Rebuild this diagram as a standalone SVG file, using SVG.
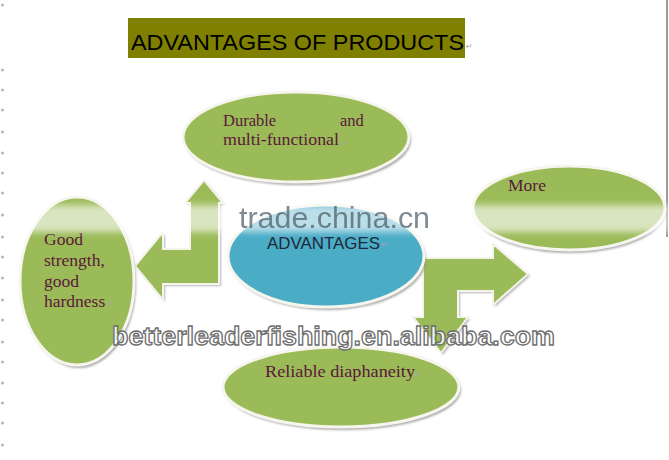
<svg xmlns="http://www.w3.org/2000/svg" width="669" height="460" viewBox="0 0 669 460">
<style>
.node{fill:#9bbb59;stroke:#f6f6ee;stroke-width:3}
.blue{fill:#4bacc6;stroke:#f6f6ee;stroke-width:3}
.shadow{fill:#8f8f8f;opacity:.75;filter:url(#blur)}
.arrow{fill:#9bbb59;stroke:#f4f4ec;stroke-width:2;stroke-linejoin:miter}
.ashadow{fill:#9a9a9a;opacity:.7;filter:url(#blur)}
.lbl{font-family:"Liberation Serif","Times New Roman",serif;font-size:17.5px;fill:#5a1838}
.pm{font-family:"DejaVu Sans",sans-serif;font-size:8px;fill:#a8a8a8}
.mark{fill:#b8b8b8}
</style>
<defs>
<filter id="blur" x="-10%" y="-10%" width="120%" height="130%"><feGaussianBlur stdDeviation="1.3"/></filter>
<filter id="bandblur" x="-5%" y="-50%" width="110%" height="200%"><feGaussianBlur stdDeviation="3"/></filter>
</defs>
<rect width="669" height="460" fill="#ffffff"/>

<g id="margin">
<line x1="667" y1="0" x2="667" y2="237" stroke="#5a5a5a" stroke-width="1.2"/>
<g class="mark">
<circle cx="2.5" cy="5" r="1.6"/>
<circle cx="2.5" cy="70" r="1.6"/><circle cx="2.5" cy="90" r="1.6"/><circle cx="2.5" cy="110" r="1.6"/>
<circle cx="2.5" cy="132" r="1.6"/><circle cx="2.5" cy="153" r="1.6"/><circle cx="2.5" cy="173" r="1.6"/>
<circle cx="2.5" cy="193" r="1.6"/><circle cx="2.5" cy="215" r="1.6"/><circle cx="2.5" cy="237" r="1.6"/>
<circle cx="2.5" cy="257" r="1.6"/><circle cx="2.5" cy="278" r="1.6"/><circle cx="2.5" cy="300" r="1.6"/>
<circle cx="2.5" cy="320" r="1.6"/><circle cx="2.5" cy="342" r="1.6"/><circle cx="2.5" cy="362" r="1.6"/>
<circle cx="2.5" cy="383" r="1.6"/><circle cx="2.5" cy="403" r="1.6"/><circle cx="2.5" cy="423" r="1.6"/>
<circle cx="2.5" cy="445" r="1.6"/>
</g>
</g>

<g id="title">
<rect x="128" y="18" width="337" height="40" fill="#808000"/>
<text x="131" y="50" font-family="'Liberation Sans','Open Sans',Arial,sans-serif" font-size="22.5" fill="#000" textLength="333" lengthAdjust="spacingAndGlyphs">ADVANTAGES OF PRODUCTS</text>
<text class="pm" x="466" y="49">↵</text>
</g>

<g id="connectors">
<polygon class="ashadow" transform="translate(2,2)" points="204,180 223,203 219,203 219,284 163,284 163,300 135,266 163,232 163,249 190,249 190,203 185,203"/>
<polygon class="arrow" points="204,180 223,203 219,203 219,284 163,284 163,300 135,266 163,232 163,249 190,249 190,203 185,203"/>
<polygon class="ashadow" transform="translate(2,2)" points="441,353 468,317 458,317 458,291 493,291 493,305 528,274 493,244 493,258 423,258 423,317 413,317"/>
<polygon class="arrow" points="441,353 468,317 458,317 458,291 493,291 493,305 528,274 493,244 493,258 423,258 423,317 413,317"/>
</g>

<g id="node-durable">
<ellipse class="shadow" cx="298" cy="140" rx="113" ry="45"/>
<ellipse class="node" cx="296" cy="137" rx="113" ry="45"/>
<text class="lbl" x="223" y="126" style="font-size:16.5px">Durable</text>
<text class="lbl" x="340" y="126" style="font-size:16.5px">and</text>
<text class="lbl" x="223" y="145" style="font-size:16.5px" textLength="116" lengthAdjust="spacingAndGlyphs">multi-functional</text>
<text class="pm" x="340" y="146">↵</text>
</g>

<g id="node-more">
<ellipse class="shadow" cx="570" cy="211" rx="96" ry="42"/>
<ellipse class="node" cx="569" cy="208" rx="96" ry="42"/>
<text class="lbl" x="508" y="191">More</text>
</g>

<g id="node-good">
<ellipse class="shadow" cx="79" cy="284" rx="57" ry="84"/>
<ellipse class="node" cx="77" cy="281" rx="57" ry="84"/>
<text class="lbl" x="44" y="245">Good</text>
<text class="lbl" x="44" y="266">strength,</text>
<text class="lbl" x="44" y="287">good</text>
<text class="lbl" x="44" y="307">hardness</text>
<text class="pm" x="107" y="306">↵</text>
</g>

<g id="node-center">
<ellipse class="shadow" cx="328" cy="259" rx="98" ry="51"/>
<ellipse class="blue" cx="326" cy="256" rx="98" ry="51"/>
<text x="267" y="249" font-family="'Liberation Sans','Open Sans',Arial,sans-serif" font-size="17" fill="#1c2838" textLength="113" lengthAdjust="spacingAndGlyphs">ADVANTAGES</text>
<text class="pm" x="381" y="247">↵</text>
</g>

<g id="node-reliable">
<ellipse class="shadow" cx="343" cy="390" rx="118" ry="40"/>
<ellipse class="node" cx="341" cy="387" rx="118" ry="40"/>
<text class="lbl" x="265" y="377" textLength="150" lengthAdjust="spacingAndGlyphs">Reliable diaphaneity</text>
<text class="pm" x="415" y="377">↵</text>
</g>

<g id="watermarks">
<rect x="18" y="205" width="651" height="27" fill="#ffffff" opacity="0.62" filter="url(#bandblur)"/>
<text x="239" y="228" font-family="'Liberation Sans',Arial,sans-serif" font-size="30" fill="#4a5a66" opacity="0.7" textLength="191" lengthAdjust="spacingAndGlyphs">trade.china.cn</text>
<text x="112" y="345" font-family="'Liberation Sans',Arial,sans-serif" font-weight="bold" font-size="26" fill="#ffffff" fill-opacity="0.85" stroke="#6e6e6e" stroke-width="1.3" textLength="443" lengthAdjust="spacingAndGlyphs">betterleaderfishing.en.alibaba.com</text>
</g>
</svg>
